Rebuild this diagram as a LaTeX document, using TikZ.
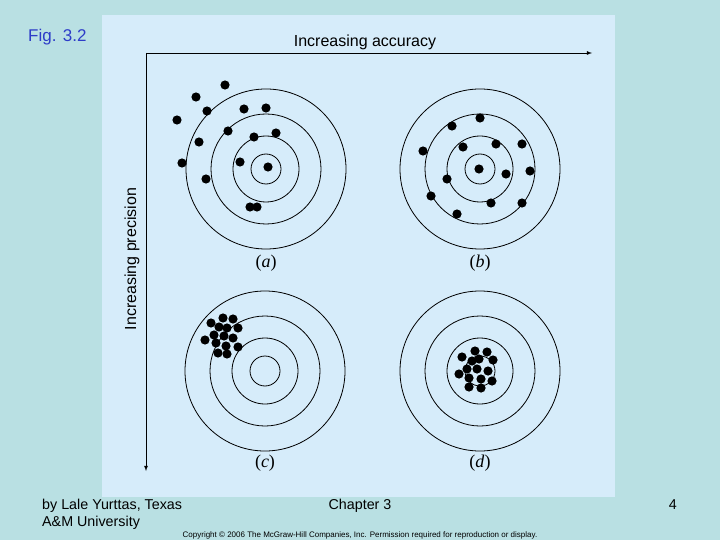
\documentclass[tikz,border=0pt]{standalone}
\usepackage{fontspec}
\setmainfont{Liberation Sans}
\newfontfamily\labelserif{Liberation Serif}
\definecolor{slidebg}{RGB}{185,224,227}
\definecolor{panelbg}{RGB}{214,236,250}
\definecolor{figblue}{RGB}{45,60,200}
\begin{document}
\begin{tikzpicture}[
  x=1pt, y=-1pt,
  ring/.style={draw=black, line width=0.8pt},
  shot/.style={fill=black},
  axis/.style={-latex, line width=0.8pt},
  axislabel/.style={font=\fontsize{16}{18}\selectfont, inner sep=1pt},
  caselabel/.style={font=\labelserif\fontsize{18}{20}\selectfont},
  footer/.style={font=\fontsize{14.3}{16}\selectfont, anchor=base west, inner sep=0pt},
]
  % slide and panel
  \fill[slidebg] (0,0) rectangle (720,540);
  \fill[panelbg] (102,15) rectangle (615,497);
  \useasboundingbox (0,0) rectangle (720,540);

  % axes
  \coordinate (origin) at (146,53);
  \coordinate (acc)    at (592,53);
  \coordinate (prec)   at (146,471);
  \draw[axis] (origin) -- (acc);
  \draw[axis] (origin) -- (prec);
  \node[axislabel] (acclabel)  at (365,42) {Increasing accuracy};
  \node[axislabel, rotate=90] (preclabel) at (132,259) {Increasing precision};

  % targets
  \coordinate (ta) at (266,169);
  \coordinate (tb) at (480,169);
  \coordinate (tc) at (265,371);
  \coordinate (td) at (480,371);
  \foreach \t in {ta,tb,tc,td}
    \foreach \r in {15,33,55,80}
      \draw[ring] (\t) circle[radius=\r];

  % shots
  \foreach \p in {(225,85),(196,97),(207,111),(177,120),(244,109),(266,108),
                  (228,131),(254,137),(276,133),(199,142),(182,163),(240,162),
                  (268,167),(206,179),(250,207),(257,207)}
    \fill[shot] \p circle[radius=4.6];
  \foreach \p in {(480,118),(452,126),(423,151),(463,147),(496,144),(522,144),
                  (479,169),(506,174),(530,171),(447,179),(431,196),(491,203),
                  (522,203),(457,214)}
    \fill[shot] \p circle[radius=4.6];
  \foreach \p in {(223,318),(233,319),(211,323),(219,327),(227,328),(238,328),
                  (214,335),(224,336),(233,338),(205,340),(216,343),(226,346),
                  (238,347),(218,353),(227,354)}
    \fill[shot] \p circle[radius=4.6];
  \foreach \p in {(462,357),(475,351),(487,352),(472,361),(479,359),(493,360),
                  (467,369),(477,369),(488,371),(459,374),(469,378),(481,379),
                  (492,381),(469,387),(481,388)}
    \fill[shot] \p circle[radius=4.6];

  % case labels
  \node[caselabel] (la) at (266,263) {(\textit{a})};
  \node[caselabel] (lb) at (480,263) {(\textit{b})};
  \node[caselabel] (lc) at (265,463) {(\textit{c})};
  \node[caselabel] (ld) at (480,463) {(\textit{d})};

  % slide texts
  \node[footer, text=figblue, font=\fontsize{17}{19}\selectfont] (fig) at (28,42) {Fig. 3.2};
  \node[footer] (author1) at (42,509) {by Lale Yurttas, Texas};
  \node[footer] (author2) at (42,526) {A\&M University};
  \node[footer, anchor=base] (chapter) at (360,509) {Chapter 3};
  \node[footer, anchor=base east] (page) at (677,509) {4};
  \node[font=\fontsize{8}{9}\selectfont, anchor=base, inner sep=0pt] (copy) at (360,537)
    {Copyright \textcopyright{} 2006 The McGraw-Hill Companies, Inc. Permission required for reproduction or display.};
\end{tikzpicture}
\end{document}
